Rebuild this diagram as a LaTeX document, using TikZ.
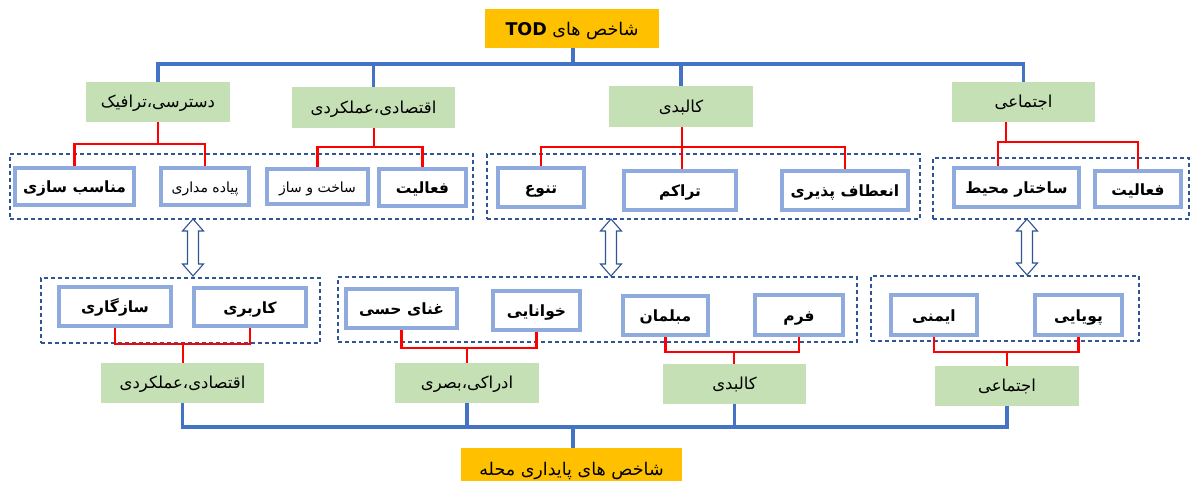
\documentclass[tikz,border=0pt]{standalone}
\usepackage{fontspec}
\TeXXeTstate=1
\newfontfamily\arfont[Script=Arabic]{DejaVu Sans}
\newcommand\fa[1]{\beginR#1\endR}
\definecolor{orng}{HTML}{FFC000}
\definecolor{grn}{HTML}{C5E0B4}
\definecolor{lblue}{HTML}{8FAADC}
\definecolor{bline}{HTML}{4472C4}
\definecolor{dblue}{HTML}{2F5597}
\definecolor{rline}{HTML}{FF0000}
\tikzset{
  orangebox/.style={fill=orng, inner sep=0pt, font=\arfont\fontsize{17.5}{20}\selectfont, text height=18pt, text depth=4.4pt},
  greenbox/.style={fill=grn, inner sep=0pt, font=\arfont\fontsize{16.5}{19}\selectfont, text height=15.5pt, text depth=4.1pt},
  wbox/.style={draw=lblue, line width=4pt, fill=white, inner sep=0pt, font=\arfont\bfseries\fontsize{15.5}{18}\selectfont, text height=16.6pt, text depth=3.9pt},
  wboxlight/.style={wbox, font=\arfont\fontsize{14}{16}\selectfont, text height=15pt, text depth=3.5pt},
  dbox/.style={draw=dblue, dash pattern=on 4pt off 3pt, line width=1.2pt, inner sep=0pt},
  blueline/.style={draw=bline, line width=3.5pt},
  redline/.style={draw=rline, line width=2.2pt},
  hollowarrow/.style={draw=dblue, fill=white, line width=1.1pt, line join=miter}
}
% hollow double arrow: x, top tip y, bottom tip y
\newcommand\dblarrow[3]{%
  \draw[hollowarrow] (#1,#2) -- ++(10.5,12) -- ++(-5,0) -- (#1+5.5,#3-12) -- ++(5,0) -- (#1,#3)
    -- ++(-10.5,-12) -- ++(5,0) -- (#1-5.5,#2+12) -- ++(-5,0) -- cycle;}
\begin{document}
\begin{tikzpicture}[x=1pt,y=-1pt]
\useasboundingbox (0,0) rectangle (1192,481);
\clip (0,0) rectangle (1192,481);
% dashed group boxes
\node[dbox, minimum width=463pt, minimum height=65pt] (A) at (241.5,186.5) {};
\node[dbox, minimum width=433pt, minimum height=65pt] (B) at (703.5,186.5) {};
\node[dbox, minimum width=256pt, minimum height=61pt] (C) at (1061,188.5) {};
\node[dbox, minimum width=279pt, minimum height=65pt] (D) at (180.5,310.5) {};
\node[dbox, minimum width=519pt, minimum height=65pt] (E) at (597.5,309.5) {};
\node[dbox, minimum width=268pt, minimum height=65pt] (F) at (1005,308.5) {};
% top title
\node[orangebox, minimum width=174pt, minimum height=39pt] (tod) at (572,28.5) {\fa{شاخص های \beginL{\bfseries TOD}\endL}};
% top categories
\node[greenbox, minimum width=144pt, minimum height=40pt] (g1) at (158,102) {\fa{دسترسی،ترافیک}};
\node[greenbox, minimum width=163pt, minimum height=41pt] (g2) at (373.5,107.5) {\fa{اقتصادی،عملکردی}};
\node[greenbox, minimum width=144pt, minimum height=41pt] (g3) at (681,106.5) {\fa{کالبدی}};
\node[greenbox, minimum width=143pt, minimum height=40pt] (g4) at (1023.5,102) {\fa{اجتماعی}};
% top items
\node[wbox, minimum width=119pt, minimum height=37pt] (t1) at (74.5,186.5) {\fa{مناسب سازی}};
\node[wboxlight, minimum width=88pt, minimum height=37pt] (t2) at (205,186.5) {\fa{پیاده مداری}};
\node[wboxlight, minimum width=101pt, minimum height=35pt] (t3) at (317.5,186.5) {\fa{ساخت و ساز}};
\node[wbox, minimum width=87pt, minimum height=37pt] (t4) at (422.5,187.5) {\fa{فعالیت}};
\node[wbox, minimum width=86pt, minimum height=39pt] (t5) at (541,187.5) {\fa{تنوع}};
\node[wbox, minimum width=112pt, minimum height=39pt] (t6) at (680,190.5) {\fa{تراکم}};
\node[wbox, minimum width=126pt, minimum height=39pt] (t7) at (845,190.5) {\fa{انعطاف پذیری}};
\node[wbox, minimum width=125pt, minimum height=39pt] (t8) at (1016.5,187.5) {\fa{ساختار محیط}};
\node[wbox, minimum width=86pt, minimum height=36pt] (t9) at (1138,189) {\fa{فعالیت}};
% hollow double arrows between the groups
\dblarrow{193}{219}{276}
\dblarrow{611}{219}{276}
\dblarrow{1027}{219}{275}
% bottom items
\node[wbox, minimum width=112pt, minimum height=39pt] (b1) at (115,306.5) {\fa{سازگاری}};
\node[wbox, minimum width=112pt, minimum height=38pt] (b2) at (250,307) {\fa{کاربری}};
\node[wbox, minimum width=111pt, minimum height=39pt] (b3) at (401.5,308.5) {\fa{غنای حسی}};
\node[wbox, minimum width=87pt, minimum height=39pt] (b4) at (536.5,310.5) {\fa{خوانایی}};
\node[wbox, minimum width=85pt, minimum height=39pt] (b5) at (665.5,315.5) {\fa{مبلمان}};
\node[wbox, minimum width=88pt, minimum height=40pt] (b6) at (799,315) {\fa{فرم}};
\node[wbox, minimum width=86pt, minimum height=40pt] (b7) at (934,315) {\fa{ایمنی}};
\node[wbox, minimum width=87pt, minimum height=40pt] (b8) at (1078.5,315) {\fa{پویایی}};
% bottom categories
\node[greenbox, minimum width=163pt, minimum height=40pt] (g5) at (182.5,383) {\fa{اقتصادی،عملکردی}};
\node[greenbox, minimum width=144pt, minimum height=40pt] (g6) at (467,383) {\fa{ادراکی،بصری}};
\node[greenbox, minimum width=143pt, minimum height=40pt] (g7) at (734.5,384) {\fa{کالبدی}};
\node[greenbox, minimum width=144pt, minimum height=40pt] (g8) at (1007,386) {\fa{اجتماعی}};
% bottom title
\node[orangebox, minimum width=221pt, minimum height=42pt] (bot) at (571.5,469) {\fa{شاخص های پایداری محله}};
% blue connectors top
\coordinate (bt) at (573,64);
\draw[blueline] (g1.north) |- (bt) -| (g4.north);
\draw[blueline] (bt |- tod.south) -- (bt);
\draw[blueline] (g2.north) -- (g2.north |- bt);
\draw[blueline] (g3.north) -- (g3.north |- bt);
% red connectors top
\coordinate (r1) at (158,144);
\draw[redline] (r1 |- g1.south) -- (r1);
\draw[redline] (t1.north) |- (r1) -| (t2.north);
\coordinate (r2) at (374,147);
\draw[redline] (r2 |- g2.south) -- (r2);
\draw[redline] (t3.north) |- (r2) -| (t4.north);
\coordinate (r3) at (682,147);
\draw[redline] (r3 |- g3.south) -- (r3) -- (r3 |- t6.north);
\draw[redline] (t5.north) |- (r3) -| (t7.north);
\coordinate (r4) at (1006,142);
\draw[redline] (r4 |- g4.south) -- (r4);
\draw[redline] ([xshift=-18.5pt]t8.north) |- (r4) -| (t9.north);
% red connectors bottom
\coordinate (q1) at (183,344);
\draw[redline] (b1.south) |- (q1) -| (b2.south);
\draw[redline] (q1) -- (q1 |- g5.north);
\coordinate (q2) at (467,348);
\draw[redline] (b3.south) |- (q2) -| (b4.south);
\draw[redline] (q2) -- (q2 |- g6.north);
\coordinate (q3) at (734,352);
\draw[redline] (b5.south) |- (q3) -| (b6.south);
\draw[redline] (q3) -- (q3 |- g7.north);
\coordinate (q4) at (1007,352);
\draw[redline] (b7.south) |- (q4) -| (b8.south);
\draw[redline] (q4) -- (q4 |- g8.north);
% blue connectors bottom
\coordinate (bb) at (573,427);
\draw[blueline] (g5.south) |- (bb) -| (g8.south);
\draw[blueline] (g6.south) -- (g6.south |- bb);
\draw[blueline] (g7.south) -- (g7.south |- bb);
\draw[blueline] (bb) -- (bb |- bot.north);
\end{tikzpicture}
\end{document}
